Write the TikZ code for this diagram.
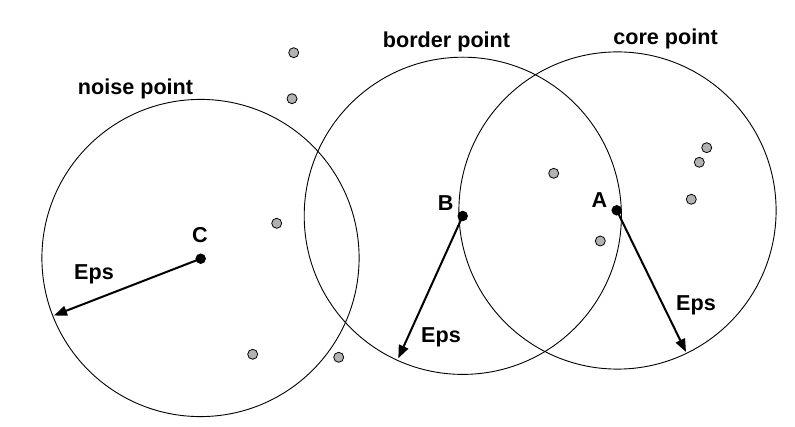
\documentclass[tikz,border=0pt]{standalone}
\usepackage{fontspec}
\setmainfont{Liberation Sans}
\usetikzlibrary{arrows.meta}
\begin{document}
\begin{tikzpicture}[x=1pt,y=-1pt,
  ring/.style={draw=black,line width=0.9pt},
  keypt/.style={circle,fill=black,inner sep=0pt,minimum size=10.5pt},
  otherpt/.style={circle,draw=black,fill=black!30,line width=0.8pt,inner sep=0pt,minimum size=10pt},
  lbl/.style={font=\fontsize{21.6}{26}\selectfont\bfseries,anchor=base,inner sep=0pt},
  epsarrow/.style={line width=2pt,-{Triangle[length=13pt,width=10pt]}}]
\useasboundingbox (0,0) rectangle (795,427);
% neighbourhood circles
\draw[ring] (200.5,258) circle (158.6);
\draw[ring] (462.8,215.8) circle (158.6);
\draw[ring] (617.5,210.5) circle (158.6);
% other points
\node[otherpt] (p1) at (293.7,52.7) {};
\node[otherpt] (p2) at (292,98.7) {};
\node[otherpt] (p3) at (276.7,223.3) {};
\node[otherpt] (p4) at (252.7,354.3) {};
\node[otherpt] (p5) at (338.7,357.3) {};
\node[otherpt] (p6) at (553.7,173.3) {};
\node[otherpt] (p7) at (600.3,241) {};
\node[otherpt] (p8) at (706.7,147.7) {};
\node[otherpt] (p9) at (699.3,162.3) {};
\node[otherpt] (p10) at (691.3,199.3) {};
% key points
\node[keypt] (C) at (200.7,258.7) {};
\node[keypt] (B) at (462.7,216) {};
\node[keypt] (A) at (616.7,210.3) {};
% arrow ends
\coordinate (tC) at (54,315.5);
\coordinate (tB) at (398.3,358.3);
\coordinate (tA) at (686,352);
\draw[epsarrow] (C.center) -- (tC);
\draw[epsarrow] (B.center) -- (tB);
\draw[epsarrow] (A.center) -- (tA);
% labels
\node[lbl] (lnoise) at (135.5,95) {noise point};
\node[lbl] (lborder) at (446.5,47.7) {border point};
\node[lbl] (lcore) at (665.5,44.3) {core point};
\node[lbl] (lC) at (200,242.3) {C};
\node[lbl] (lB) at (445.7,210.7) {B};
\node[lbl] (lA) at (599.3,207.3) {A};
\node[lbl] (e1) at (94,279.3) {Eps};
\node[lbl] (e2) at (441,342.7) {Eps};
\node[lbl] (e3) at (696,310.7) {Eps};
\end{tikzpicture}
\end{document}
